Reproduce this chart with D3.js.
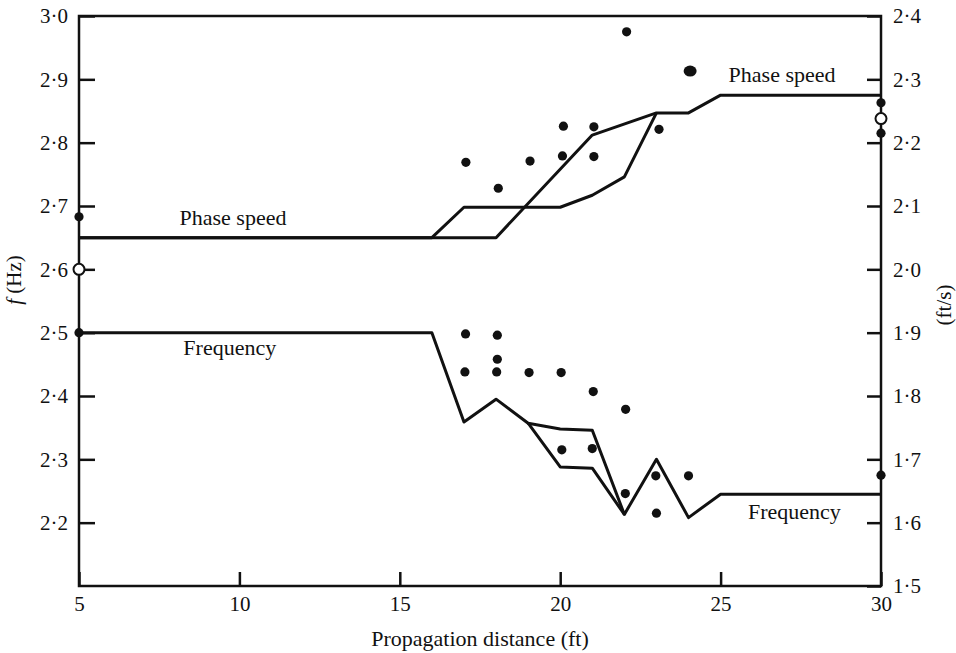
<!DOCTYPE html>
<html>
<head>
<meta charset="utf-8">
<script src="https://cdn.jsdelivr.net/npm/d3@7"></script>
<style>
  body { margin: 0; background: #fff; }
  text { font-family: "Liberation Serif", "DejaVu Serif", serif; fill: #111; }
</style>
</head>
<body>
<script>
// Propagation distance along the tank, ft
const distTicks = [5, 10, 15, 20, 25, 30];
// Left axis is frequency (Hz), right axis is phase speed (ft/s)
// (bottom 2.1 on the left is not labelled in the original)
const hzTicks = [2.2, 2.3, 2.4, 2.5, 2.6, 2.7, 2.8, 2.9, 3.0];
const speedTicks = [1.5, 1.6, 1.7, 1.8, 1.9, 2.0, 2.1, 2.2, 2.3, 2.4];

// Phase speed curves (ft/s). Two of them, they split between 16 and 23 ft.
const speedLineA = [[5, 2.05], [18, 2.05], [21, 2.212], [23, 2.247], [24, 2.247], [25, 2.275], [30, 2.275]];
const speedLineB = [[5, 2.05], [16, 2.05], [17, 2.098], [20, 2.098], [21, 2.117], [22, 2.146], [23, 2.247]];

// Frequency curves (Hz), same deal, they split between 19 and 22 ft
const freqLineA = [[5, 2.5], [16, 2.5], [17, 2.359], [18, 2.395], [19, 2.357], [20, 2.348], [21, 2.346], [22, 2.213], [23, 2.3], [24, 2.208], [25, 2.245], [30, 2.245]];
const freqLineB = [[19, 2.357], [20, 2.288], [21, 2.286], [22, 2.213]];

// Measured points
const speedDots = [[22.07, 2.375], [20.1, 2.226], [21.05, 2.225], [17.06, 2.169], [19.06, 2.171], [20.07, 2.179], [21.05, 2.178], [18.07, 2.128], [23.08, 2.221], [30, 2.263], [30, 2.215], [5, 2.083]];
const speedOpen = [[30, 2.238], [5, 2.0]];
const freqDots = [[17.05, 2.498], [18.04, 2.496], [18.04, 2.458], [17.03, 2.438], [18.02, 2.438], [19.03, 2.437], [20.03, 2.437], [21.03, 2.407], [22.04, 2.379], [20.05, 2.315], [21.0, 2.317], [22.03, 2.246], [22.98, 2.274], [24.0, 2.274], [23.0, 2.215], [30, 2.275], [5, 2.5]];

var W = 956, H = 653;
var svg = d3.select("body").append("svg").attr("width", W).attr("height", H);

var x = d3.scaleLinear().domain([5, 30]).range([79, 881]);
var yHz = d3.scaleLinear().domain([2.1, 3.0]).range([586, 16]);
var ySpeed = d3.scaleLinear().domain([1.5, 2.4]).range([586, 16]);

// old printing used a raised dot for decimals
var fmt = d => d3.format(".1f")(d).replace(".", "\u00b7");

// frame
svg.append("rect")
  .attr("x", x(5)).attr("y", yHz(3.0))
  .attr("width", x(30) - x(5)).attr("height", yHz(2.1) - yHz(3.0))
  .attr("fill", "none").attr("stroke", "#111").attr("stroke-width", 2.5);

function styleAxis(g) {
  g.select(".domain").remove();
  g.selectAll(".tick line").attr("stroke", "#111").attr("stroke-width", 2.5);
  g.selectAll(".tick text").attr("font-size", 21).attr("font-family", "Liberation Serif").attr("fill", "#111");
}

svg.append("g").attr("transform", `translate(0,${yHz(2.1)})`)
  .call(d3.axisBottom(x).tickValues(distTicks).tickSizeInner(-14).tickSizeOuter(0).tickPadding(10).tickFormat(d3.format("d")))
  .call(styleAxis);

svg.append("g").attr("transform", `translate(${x(5)},0)`)
  .call(d3.axisLeft(yHz).tickValues(hzTicks).tickSizeInner(-16).tickSizeOuter(0).tickPadding(11).tickFormat(fmt))
  .call(styleAxis);

svg.append("g").attr("transform", `translate(${x(30)},0)`)
  .call(d3.axisRight(ySpeed).tickValues(speedTicks).tickSizeInner(-14).tickSizeOuter(0).tickPadding(12).tickFormat(fmt))
  .call(styleAxis);

// curves
var lineSpeed = d3.line().x(d => x(d[0])).y(d => ySpeed(d[1]));
var lineHz = d3.line().x(d => x(d[0])).y(d => yHz(d[1]));

[speedLineA, speedLineB].forEach(function (l) {
  svg.append("path").attr("d", lineSpeed(l))
    .attr("fill", "none").attr("stroke", "#111").attr("stroke-width", 3).attr("stroke-linejoin", "round");
});
[freqLineA, freqLineB].forEach(function (l) {
  svg.append("path").attr("d", lineHz(l))
    .attr("fill", "none").attr("stroke", "#111").attr("stroke-width", 3).attr("stroke-linejoin", "round");
});

// dots
svg.selectAll(".sdot").data(speedDots).enter().append("circle")
  .attr("cx", d => x(d[0])).attr("cy", d => ySpeed(d[1])).attr("r", 4.6).attr("fill", "#111");
svg.selectAll(".fdot").data(freqDots).enter().append("circle")
  .attr("cx", d => x(d[0])).attr("cy", d => yHz(d[1])).attr("r", 4.6).attr("fill", "#111");
svg.selectAll(".sopen").data(speedOpen).enter().append("circle")
  .attr("cx", d => x(d[0])).attr("cy", d => ySpeed(d[1])).attr("r", 5.5)
  .attr("fill", "#fff").attr("stroke", "#111").attr("stroke-width", 2);

// curve labels
function label(txt, px, py, anchor) {
  svg.append("text").attr("x", px).attr("y", py).attr("text-anchor", anchor || "start")
    .attr("font-size", 22).text(txt);
}
label("Phase speed", x(9.8), yHz(2.67), "middle");
label("Frequency", x(9.7), yHz(2.465), "middle");
label("Frequency", x(27.3), yHz(2.206), "middle");
label("Phase speed", x(25.25), ySpeed(2.296), "start");
// the fat dot in front of the top right label
svg.append("ellipse").attr("cx", x(24.05)).attr("cy", ySpeed(2.313))
  .attr("rx", 6.5).attr("ry", 5.5).attr("fill", "#111");

// axis titles
svg.append("text").attr("x", (x(5) + x(30)) / 2).attr("y", 646).attr("text-anchor", "middle")
  .attr("font-size", 22).text("Propagation distance (ft)");

var yt = svg.append("text").attr("transform", "translate(21,280) rotate(-90)")
  .attr("text-anchor", "middle").attr("font-size", 21);
yt.append("tspan").attr("font-style", "italic").text("f");
yt.append("tspan").text(" (Hz)");

svg.append("text").attr("transform", "translate(951,305) rotate(-90)")
  .attr("text-anchor", "middle").attr("font-size", 21).text("(ft/s)");
</script>
</body>
</html>
